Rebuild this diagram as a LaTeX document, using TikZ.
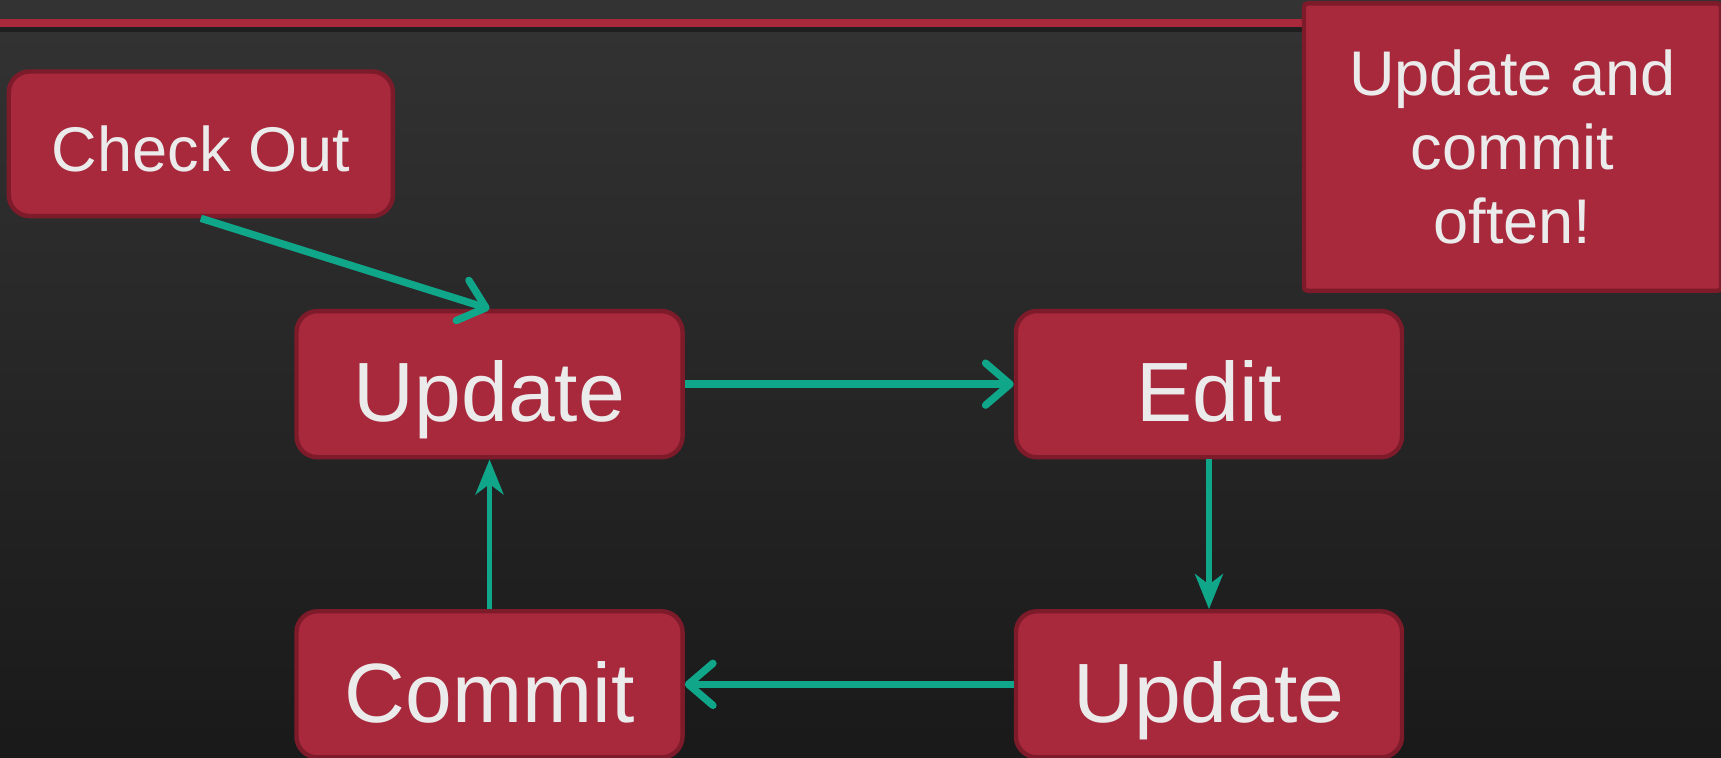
\documentclass[tikz,border=0pt]{standalone}
\usepackage{fontspec}
\setmainfont{Liberation Sans}
\usepackage{tikz}
\usetikzlibrary{positioning,arrows.meta}
\definecolor{boxred}{HTML}{A8283C}
\definecolor{boxedge}{HTML}{7E1B2A}
\definecolor{flowgreen}{HTML}{0FA68A}
\definecolor{boxtext}{HTML}{EBEBEB}
\tikzstyle{stage} = [draw=boxedge, fill=boxred, line width=2.5pt, rounded corners=12pt,
  text=boxtext, minimum width=7.74cm, minimum height=2.93cm, text height=43pt, text depth=0pt,
  font=\fontsize{48}{56}\selectfont]
\tikzstyle{flow} = [draw=flowgreen, line width=4.2pt, -{Straight Barb[length=14pt,width=24pt,round]}]
\tikzstyle{back} = [draw=flowgreen, line width=3pt, -{Stealth[length=20pt,width=16pt,inset=6pt,fill=flowgreen]}]

\begin{document}
\begin{tikzpicture}[x=0.022cm, y=0.022cm]
			\useasboundingbox (0,0) rectangle (1568,-690);
			\shade[top color=black!80, bottom color=black!90] (0,0) rectangle (1568,-690);
			\fill[black!88] (0,-24) rectangle (1188,-29);
			\fill[boxred] (0,-17) rectangle (1188,-25);
			\node[stage, minimum width=7.7cm, minimum height=2.9cm, text height=32pt,
			  font=\fontsize{36}{42}\selectfont] (c) at (183,-131) {Check Out};
			\node[stage] (u) at (446,-350) {Update};
			\node[stage] (e) at (1101.5,-350) {Edit};
			\node[stage] (m) at (446,-623.5) {Commit};
			\node[stage] (v) at (1101.5,-623.5) {Update};
			\node[stage, rounded corners=2pt, minimum width=8.36cm, minimum height=5.76cm, align=center,
			  text height=, text depth=, font=\fontsize{36}{42}\selectfont] (n) at (1378,-134) {Update and\\commit\\often!};
			\draw[flow] (c.south) -- (u.north);
			\draw[flow] (u) -- (e);
			\draw[back] (e) -- (v);
			\draw[flow] (v) -- (m);
			\draw[back] (m) -- (u);
		\end{tikzpicture}
\end{document}
